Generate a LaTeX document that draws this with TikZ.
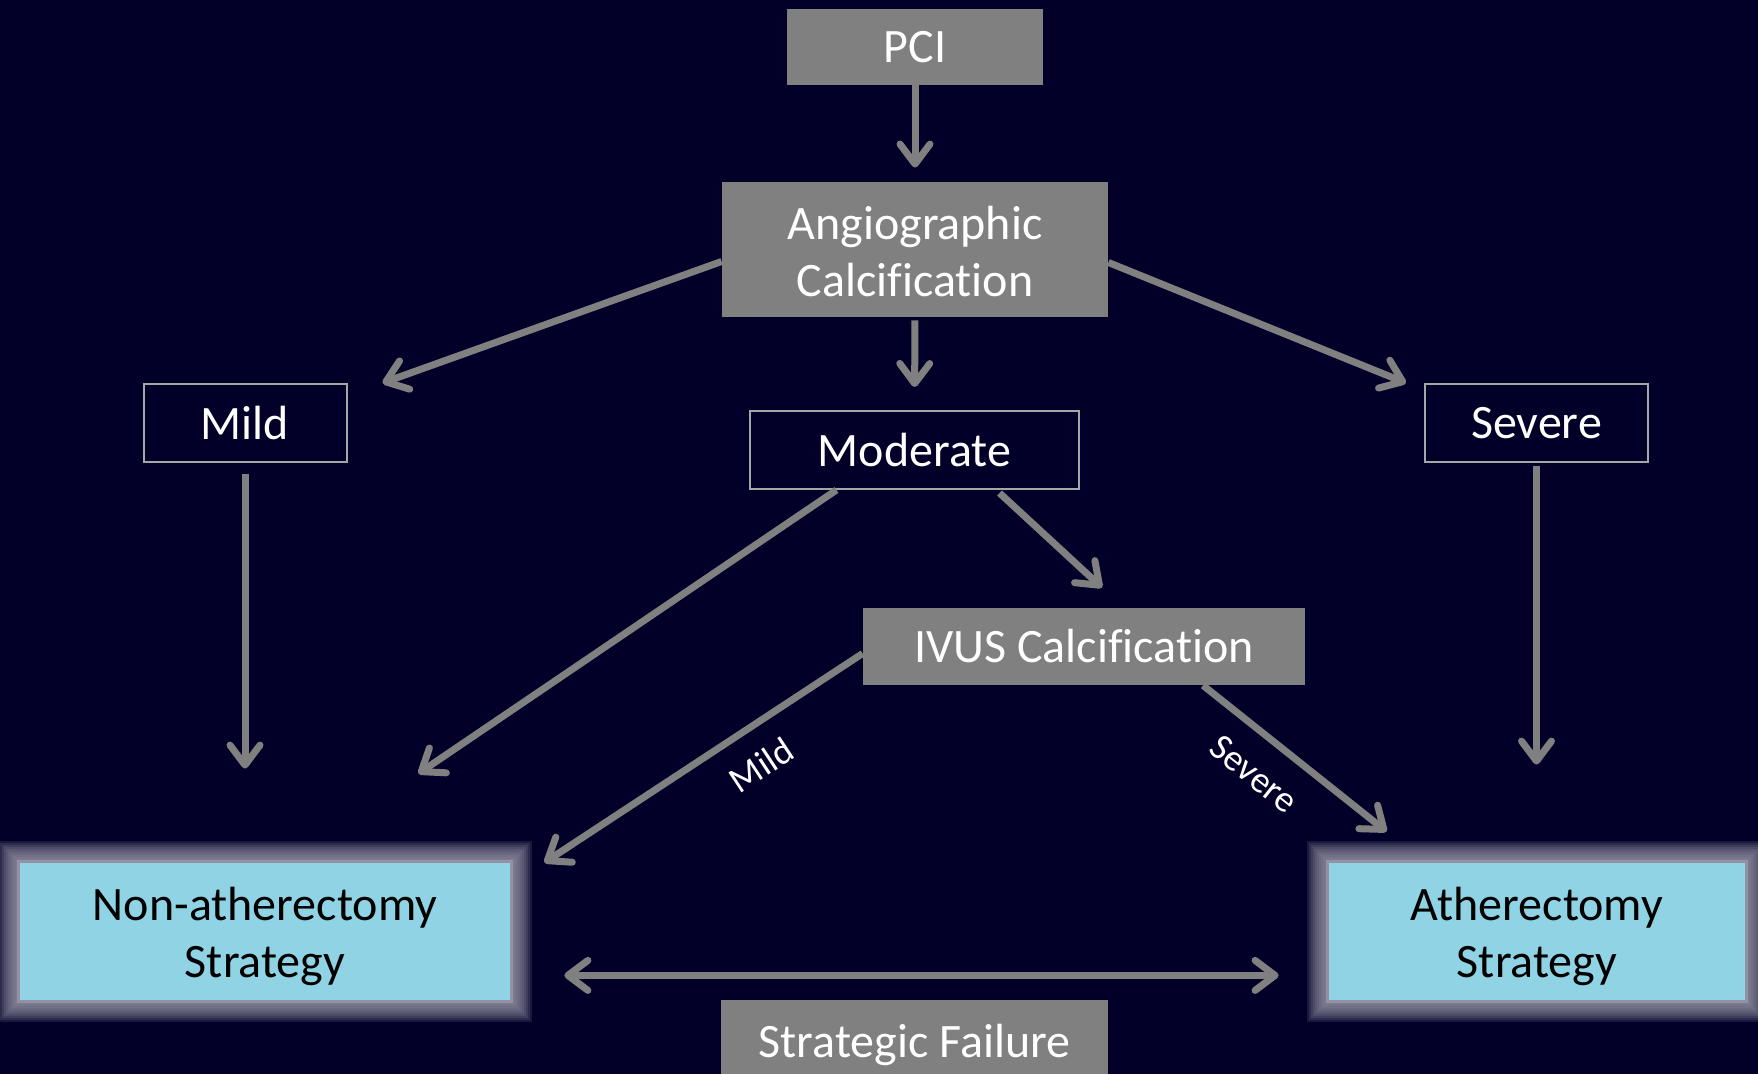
\documentclass[tikz,border=0pt]{standalone}
\usepackage{fontspec}
\setmainfont{Carlito}[Ligatures=NoCommon]
\usetikzlibrary{arrows.meta,calc}

\definecolor{bgnavy}{RGB}{2,0,40}
\definecolor{boxgray}{RGB}{128,128,128}
\definecolor{linkgray}{RGB}{128,128,128}
\definecolor{paleblue}{RGB}{143,211,228}
\definecolor{halo}{RGB}{150,148,166}
\definecolor{edgegray}{RGB}{166,166,166}

\pgfdeclarelayer{back}
\pgfsetlayers{back,main}

\tikzset{
  barb/.tip={Straight Barb[length=10pt,width=15pt,round]},
  boxfont/.style={font=\fontsize{24}{28.5}\selectfont},
  graybox/.style={boxfont, fill=boxgray, text=white, inner sep=0pt, align=center},
  outlinebox/.style={boxfont, draw=edgegray, line width=1pt, text=white, inner sep=0pt, align=center},
  strategybox/.style={boxfont, fill=paleblue, text=black, inner sep=0pt, align=center},
  link/.style={draw=linkgray, line width=3.5pt, -barb},
  twolink/.style={draw=linkgray, line width=3.5pt, barb-barb},
  edgelabel/.style={font=\fontsize{18.5}{20}\selectfont, text=white, inner sep=0pt},
}

% invisible strut that lets a two-line text sit a little lower in its box
\newcommand{\topstrut}[1]{\rule{0pt}{#1}}

% soft halo drawn behind a strategy box
\newcommand{\glowaround}[1]{%
  \begin{pgfonlayer}{back}
    \foreach \d in {22,20,...,4} {
      \fill[halo, opacity=0.17] ($(#1.north west)+(-\d,-\d)$) rectangle ($(#1.south east)+(\d,\d)$);
    }
    \fill[halo, opacity=0.9] ($(#1.north west)+(-3,-3)$) rectangle ($(#1.south east)+(3,3)$);
  \end{pgfonlayer}}

\begin{document}
\begin{tikzpicture}[x=0.5pt, y=-0.5pt]
  \begin{pgfonlayer}{back}
    \fill[bgnavy] (0,0) rectangle (1758,1074);
  \end{pgfonlayer}
  \useasboundingbox (0,0) rectangle (1758,1074);

  % boxes
  \node[graybox, minimum width=128pt, minimum height=38pt] (pci) at (915,47) {PCI};
  \node[graybox, minimum width=193pt, minimum height=67.5pt] (angio) at (915,249.5) {\topstrut{18.5pt}Angiographic\\Calcification};
  \node[outlinebox, minimum width=101.5pt, minimum height=39pt] (mild) at (245,423) {Mild};
  \node[outlinebox, minimum width=164.5pt, minimum height=39pt] (moderate) at (914.5,450) {Moderate};
  \node[outlinebox, minimum width=111.5pt, minimum height=39pt] (severe) at (1536.5,423) {Severe};
  \node[graybox, minimum width=221pt, minimum height=38.5pt] (ivus) at (1084,646.5) {IVUS Calcification};
  \node[strategybox, minimum width=245pt, minimum height=68.5pt] (non) at (265,931.5) {\topstrut{22pt}Non-atherectomy\\Strategy};
  \node[strategybox, minimum width=208pt, minimum height=68.5pt] (ath) at (1537,931.5) {\topstrut{22pt}Atherectomy\\Strategy};
  % runs past the lower edge of the page
  \node[graybox, minimum width=193.5pt, minimum height=45pt] (fail) at (914.5,1045) {Strategic Failure};

  \glowaround{non}
  \glowaround{ath}

  % connectors
  \draw[link, shorten >=7pt] (pci.south) -- (angio.north);
  \draw[link] ($(angio.west)+(0,12)$) -- ($(mild.north east)+(35,0)$);
  \draw[link, shorten <=1.5pt, shorten >=11.5pt] (angio.south) -- (moderate.north);
  \draw[link] ($(angio.east)+(0,13)$) -- ($(severe.north west)+(-18,0)$);
  \draw[link, shorten <=5.5pt, shorten >=47pt] (mild.south) -- (mild.south |- non.north);
  \draw[link] ($(moderate.south)+(-78,0)$) -- ($(non.north east)+(-92,-89)$);
  \draw[link] ($(moderate.south)+(85,3)$) -- ($(ivus.north)+(18,-20)$);
  \draw[link] ($(ivus.west)+(0,7)$) -- ($(non.north east)+(34,0)$);
  \draw[link] ($(ivus.south)+(119,0)$) -- ($(ath.north west)+(58,-31)$);
  \draw[link, shorten <=1.5pt, shorten >=49pt] (severe.south) -- (severe.south |- ath.north);
  \draw[twolink] ($(non.south east)+(54,-25)$) -- ($(ath.south west)+(-50,-25)$);

  % branch labels
  \node[edgelabel, rotate=33.4] (lblmild) at (761,765) {Mild};
  \node[edgelabel, rotate=-38.6] (lblsevere) at (1254,774) {Severe};
\end{tikzpicture}
\end{document}
